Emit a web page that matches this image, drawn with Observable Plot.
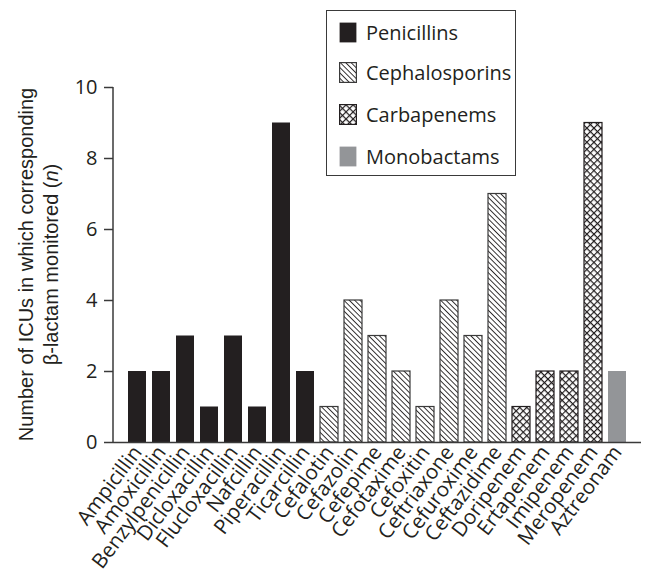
<!DOCTYPE html>
<html><head><meta charset="utf-8">
<script src="https://cdn.jsdelivr.net/npm/d3@7"></script>
<script src="https://cdn.jsdelivr.net/npm/@observablehq/plot@0.6"></script>
<style>
body{margin:0;background:#fff;}
#wrap{position:relative;width:647px;height:574px;}
#legend{position:absolute;left:326px;top:10px;width:188px;height:164px;border:1.5px solid #3a3a3a;font-family:"Open Sans",sans-serif;font-size:20px;color:#231f20;background:#fff;}
.item{position:absolute;left:12px;height:24px;display:flex;align-items:center;white-space:nowrap;}
.item svg{margin-right:9px;display:block;}
</style></head><body>
<svg width="0" height="0" style="position:absolute">
<defs>
<pattern id="hatch" patternUnits="userSpaceOnUse" width="3.8" height="3.8" patternTransform="rotate(-45)">
<rect x="-1" y="-1" width="6" height="6" fill="#fff"/>
<line x1="0" y1="-1" x2="0" y2="5" stroke="#231f20" stroke-width="1.8"/>
</pattern>
<pattern id="cross" patternUnits="userSpaceOnUse" width="5" height="5" patternTransform="rotate(45)">
<rect x="-1" y="-1" width="7" height="7" fill="#fff"/>
<path d="M-1,0H6M0,-1V6" stroke="#231f20" stroke-width="2.3"/>
</pattern>
</defs>
</svg>
<div id="wrap"><div id="legend"></div></div>
<script>
const penicillins = ["Ampicillin","Amoxicillin","Benzylpenicillin","Dicloxacillin","Flucloxacillin","Nafcillin","Piperacillin","Ticarcillin"];
const penicillinValues = [2,2,3,1,3,1,9,2];
const cephalosporins = ["Cefalotin","Cefazolin","Cefepime","Cefotaxime","Cefoxitin","Ceftriaxone","Cefuroxime","Ceftazidime"];
const cephalosporinValues = [1,4,3,2,1,4,3,7];
const carbapenems = ["Doripenem","Ertapenem","Imipenem","Meropenem"];
const carbapenemValues = [1,2,2,9];
const monobactams = ["Aztreonam"];
const monobactamValues = [2];
const classes = ["Penicillins","Cephalosporins","Carbapenems","Monobactams"];
const yTicks = [0,2,4,6,8,10];

const groups = [
  {cls: classes[0], names: penicillins, values: penicillinValues, fill: "#231f20", stroke: "none"},
  {cls: classes[1], names: cephalosporins, values: cephalosporinValues, fill: "url(#hatch)", stroke: "#3a3a3a"},
  {cls: classes[2], names: carbapenems, values: carbapenemValues, fill: "url(#cross)", stroke: "#231f20"},
  {cls: classes[3], names: monobactams, values: monobactamValues, fill: "#939598", stroke: "none"}
];
const drugs = groups.flatMap(g => g.names);

const chart = Plot.plot({
  width: 647, height: 574,
  marginLeft: 113, marginRight: 6, marginTop: 87, marginBottom: 132,
  style: {fontFamily: "'Open Sans', sans-serif", fontSize: "20px", color: "#231f20", background: "transparent"},
  x: {domain: drugs, paddingInner: 0.25, paddingOuter: 0.625, label: null},
  y: {domain: [0, 10], label: null},
  marks: [
    ...groups.map(g => Plot.barY(g.names.map((d, i) => ({drug: d, n: g.values[i]})),
      {x: "drug", y: "n", fill: g.fill, stroke: g.stroke, strokeWidth: 1.2})),
    Plot.axisY({ticks: yTicks, tickSize: 9, tickPadding: 7, fontSize: 20, stroke: "#3a3a3a", strokeWidth: 1.5, label: null}),
    Plot.axisX({tickRotate: -53, tickSize: 0, tickPadding: 6, fontFamily: "'Open Sans', sans-serif", fontSize: 20.5, label: null}),
    Plot.ruleY([0], {stroke: "#3a3a3a", strokeWidth: 1.5})
  ]
});
document.getElementById("wrap").prepend(chart);

const svg = d3.select(chart);
const ys = chart.scale("y");
svg.append("line")
  .attr("x1", 113).attr("x2", 113)
  .attr("y1", ys.apply(0)).attr("y2", ys.apply(10))
  .attr("stroke", "#3a3a3a").attr("stroke-width", 1.5);

const label = svg.append("text")
  .attr("transform", `translate(0,${(ys.apply(0) + ys.apply(10)) / 2}) rotate(-90)`)
  .attr("text-anchor", "middle")
  .attr("font-family", "'Liberation Sans', Arial, sans-serif")
  .attr("font-size", 20)
  .attr("fill", "#231f20");
label.append("tspan").attr("x", 0).attr("y", 33).text("Number of ICUs in which corresponding");
const l2 = label.append("tspan").attr("x", 0).attr("y", 58);
l2.append("tspan").text("β-lactam monitored (");
l2.append("tspan").attr("font-style", "italic").text("n");
l2.append("tspan").text(")");

const legend = d3.select("#legend");
const tops = [9, 49, 91, 133];
groups.forEach((g, i) => {
  const item = legend.append("div").attr("class", "item").style("top", tops[i] + "px");
  const s = item.append("svg").attr("width", 18).attr("height", 21);
  s.append("rect").attr("x", 0.6).attr("y", 0.6).attr("width", 16.8).attr("height", 19.8)
    .attr("fill", g.fill).attr("stroke", g.stroke === "none" ? "none" : g.stroke).attr("stroke-width", 1.2);
  item.append("span").text(g.cls);
});
</script>
</body></html>
